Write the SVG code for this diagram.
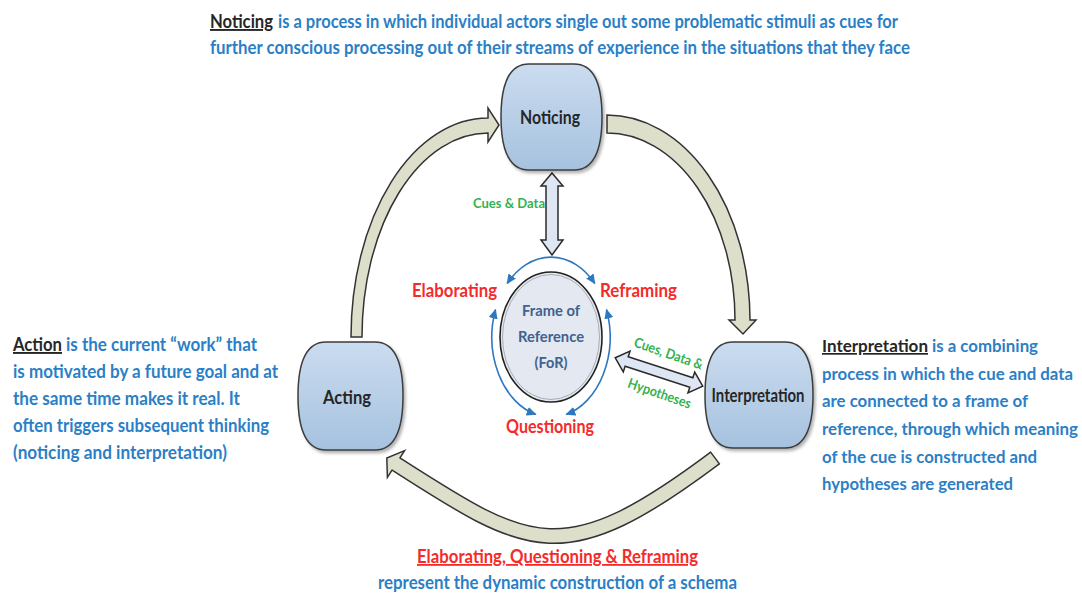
<svg xmlns="http://www.w3.org/2000/svg" width="1082" height="594" viewBox="0 0 1082 594">
<defs>
<style>
.t{font-family:Lato,"Liberation Sans",sans-serif;font-weight:700}
.blue{fill:#2b7fc6}
.dark{fill:#262626}
.red{fill:#f52a2a}
.green{fill:#33b24f}
.for{fill:#41618f}
.node{fill:url(#ng);stroke:#3c3c3c;stroke-width:1.5;filter:url(#sh)}
.big{fill:#dedfcb;stroke:#333;stroke-width:1.5;stroke-linejoin:miter}
.dbl{fill:#dde6f2;stroke:#2a2a2a;stroke-width:1.5}
.arc{fill:none;stroke:#2e78c0;stroke-width:1.6;marker-start:url(#ah);marker-end:url(#ah)}
</style>
<linearGradient id="ng" x1="0" y1="0" x2="0" y2="1">
<stop offset="0" stop-color="#cbdcef"/>
<stop offset="1" stop-color="#a6c2df"/>
</linearGradient>
<filter id="sh" x="-20%" y="-20%" width="140%" height="140%">
<feDropShadow dx="2" dy="2.5" stdDeviation="1.5" flood-color="#000" flood-opacity="0.3"/>
</filter>
<marker id="ah" markerWidth="10" markerHeight="10" viewBox="0 0 10 10" refX="9" refY="5" orient="auto-start-reverse" markerUnits="userSpaceOnUse">
<path d="M0,0.5 L10,5 L0,9.5 Z" fill="#2e78c0"/>
</marker>
</defs>
<rect width="1082" height="594" fill="#fff"/>

<g id="connectors">
<path class="big" d="M351,337 A137,219 0 0 1 488,118 L488,108 L499,125 L488,142 L488,133 A126,204 0 0 0 362,337 Z"/>
<path class="big" d="M607,115 A143,205 0 0 1 750,320 L756,320 L743,334 L729,320 L735,320 A128,187 0 0 0 607,133 Z"/>
<path d="M396,464 C530,550 563,572 715,458" fill="none" stroke="#333" stroke-width="16"/>
<polygon points="404.6,450.6 386.8,458.1 387.4,477.4" fill="#dedfcb" stroke="#333" stroke-width="1.5" stroke-linejoin="miter"/>
<path d="M394.3,462.9 L396,464 C530,550 563,572 715,458" fill="none" stroke="#dedfcb" stroke-width="13"/>
<line x1="710.2" y1="451.6" x2="719.8" y2="464.4" stroke="#333" stroke-width="1.5"/>
<polygon class="dbl" points="552,173 563,186 558,186 558,240 563,240 552,255 541,240 546,240 546,186 541,186"/>
<polygon class="dbl" transform="translate(659,372) rotate(18)" points="-46,0 -34,-11 -34,-5 34,-5 34,-11 46,0 34,11 34,5 -34,5 -34,11"/>
<path class="arc" d="M507.2,283.5 A59,80 0 0 1 594.8,283.5"/>
<path class="arc" d="M495.5,309.6 A59,80 0 0 0 535.7,414.3"/>
<path class="arc" d="M606.5,309.6 A59,80 0 0 1 566.3,414.3"/>
</g>

<g id="noticing">
<path class="node" d="M529,64 H574 C595,64 602,85 602,117 C602,149 595,170 574,170 H529 C508,170 501,149 501,117 C501,85 508,64 529,64 Z"/>
<text class="t dark" x="550" y="124" font-size="19" text-anchor="middle" textLength="60" lengthAdjust="spacingAndGlyphs">Noticing</text>
</g>
<g id="acting">
<path class="node" d="M326,342 H375 C396,342 403,364 403,396 C403,428 396,450 375,450 H326 C305,450 298,428 298,396 C298,364 305,342 326,342 Z"/>
<text class="t dark" x="347" y="404" font-size="19" text-anchor="middle" textLength="48" lengthAdjust="spacingAndGlyphs">Acting</text>
</g>
<g id="interpretation">
<path class="node" d="M733,342 H785 C806,342 813,363 813,395 C813,427 806,448 785,448 H733 C712,448 705,427 705,395 C705,363 712,342 733,342 Z"/>
<text class="t dark" x="758" y="402" font-size="18" text-anchor="middle" textLength="93" lengthAdjust="spacingAndGlyphs">Interpretation</text>
</g>
<g id="frame-of-reference">
<ellipse cx="551" cy="337" rx="51" ry="65" fill="#e3e8f1" stroke="#222" stroke-width="1.6"/>
<ellipse cx="551" cy="337" rx="48.5" ry="62.5" fill="none" stroke="#a8adb5" stroke-width="1"/>
<text class="t for" x="551" y="316" font-size="16" text-anchor="middle" textLength="58" lengthAdjust="spacingAndGlyphs">Frame of</text>
<text class="t for" x="551" y="342" font-size="16" text-anchor="middle" textLength="66" lengthAdjust="spacingAndGlyphs">Reference</text>
<text class="t for" x="551" y="368" font-size="16" text-anchor="middle" textLength="33" lengthAdjust="spacingAndGlyphs">(FoR)</text>
</g>

<g id="cycle-labels">
<text class="t red" x="412" y="297" font-size="18" textLength="85" lengthAdjust="spacingAndGlyphs">Elaborating</text>
<text class="t red" x="600" y="297" font-size="18" textLength="77" lengthAdjust="spacingAndGlyphs">Reframing</text>
<text class="t red" x="506" y="433" font-size="18" textLength="88" lengthAdjust="spacingAndGlyphs">Questioning</text>
</g>

<g id="flow-labels">
<text class="t green" x="473" y="208" font-size="14" textLength="72" lengthAdjust="spacingAndGlyphs">Cues &amp; Data</text>
<text class="t green" transform="translate(667,358) rotate(19)" x="0" y="0" font-size="14" text-anchor="middle" textLength="72" lengthAdjust="spacingAndGlyphs">Cues, Data &amp;</text>
<text class="t green" transform="translate(658,398) rotate(19)" x="0" y="0" font-size="14" text-anchor="middle" textLength="66" lengthAdjust="spacingAndGlyphs">Hypotheses</text>
</g>

<g id="noticing-desc">
<text class="t dark" font-size="19" x="210" y="28" textLength="63" lengthAdjust="spacingAndGlyphs" text-decoration="underline">Noticing</text>
<text class="t blue" font-size="19" x="278" y="28" textLength="620" lengthAdjust="spacingAndGlyphs">is a process in which individual actors single out some problematic stimuli as cues for</text>
<text class="t blue" font-size="19" x="210" y="54" textLength="700" lengthAdjust="spacingAndGlyphs">further conscious processing out of their streams of experience in the situations that they face</text>
</g>

<g id="action-desc">
<text class="t dark" font-size="19" x="13" y="351" textLength="49" lengthAdjust="spacingAndGlyphs" text-decoration="underline">Action</text>
<text class="t blue" font-size="19" x="66" y="351" textLength="191" lengthAdjust="spacingAndGlyphs">is the current “work” that</text>
<text class="t blue" font-size="19" x="13" y="378" textLength="265" lengthAdjust="spacingAndGlyphs">is motivated by a future goal and at</text>
<text class="t blue" font-size="19" x="13" y="405" textLength="227" lengthAdjust="spacingAndGlyphs">the same time makes it real. It</text>
<text class="t blue" font-size="19" x="13" y="432" textLength="256" lengthAdjust="spacingAndGlyphs">often triggers subsequent thinking</text>
<text class="t blue" font-size="19" x="13" y="459" textLength="214" lengthAdjust="spacingAndGlyphs">(noticing and interpretation)</text>
</g>

<g id="interpretation-desc">
<text class="t dark" font-size="17" x="822" y="352" textLength="106" lengthAdjust="spacingAndGlyphs" text-decoration="underline">Interpretation</text>
<text class="t blue" font-size="17" x="932" y="352" textLength="106" lengthAdjust="spacingAndGlyphs">is a combining</text>
<text class="t blue" font-size="17" x="822" y="380" textLength="251" lengthAdjust="spacingAndGlyphs">process in which the cue and data</text>
<text class="t blue" font-size="17" x="822" y="407" textLength="206" lengthAdjust="spacingAndGlyphs">are connected to a frame of</text>
<text class="t blue" font-size="17" x="822" y="435" textLength="256" lengthAdjust="spacingAndGlyphs">reference, through which meaning</text>
<text class="t blue" font-size="17" x="822" y="463" textLength="215" lengthAdjust="spacingAndGlyphs">of the cue is constructed and</text>
<text class="t blue" font-size="17" x="822" y="490" textLength="191" lengthAdjust="spacingAndGlyphs">hypotheses are generated</text>
</g>

<g id="schema-desc">
<text class="t red" font-size="18" x="417" y="563" textLength="281" lengthAdjust="spacingAndGlyphs" text-decoration="underline">Elaborating, Questioning &amp; Reframing</text>
<text class="t blue" font-size="18" x="378" y="589" textLength="359" lengthAdjust="spacingAndGlyphs">represent the dynamic construction of a schema</text>
</g>
</svg>
